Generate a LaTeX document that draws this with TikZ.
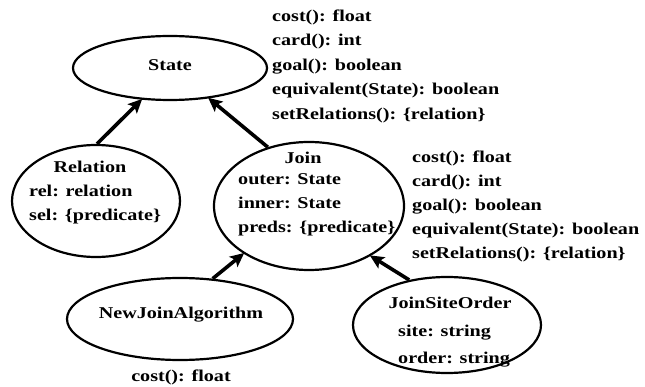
\documentclass[tikz,border=0pt]{standalone}
\usepackage{fontspec}
\setmainfont[FakeStretch=1.22]{Liberation Serif}
\usetikzlibrary{shapes.geometric,arrows.meta}
\tikzset{
  ell/.style={draw, ellipse, line width=2.2pt, inner sep=0pt},
  txt/.style={font=\bfseries\fontsize{16.5}{16.5}\selectfont, inner sep=0pt},
  meth/.style={txt, anchor=west, align=left},
  inh/.style={line width=3.6pt, -{Stealth[length=14pt,width=13pt,inset=3pt]}, shorten >=-1pt}
}
\begin{document}
\begin{tikzpicture}[x=1pt,y=-1pt]
\useasboundingbox (0,0) rectangle (645,387);
% ellipses
\node[ell, minimum width=194pt, minimum height=64pt] (state) at (170,68) {};
\node[ell, minimum width=168pt, minimum height=112pt] (rel) at (96,201) {};
\node[ell, minimum width=190pt, minimum height=128pt] (join) at (309,206) {};
\node[ell, minimum width=226pt, minimum height=82pt] (nja) at (180,319) {};
\node[ell, minimum width=188pt, minimum height=96pt] (jso) at (447,325) {};
% labels in ellipses
\node[txt] (statet) at (170,65) {State};
\node[txt] (relt) at (90,167) {Relation};
\node[meth] (relattr) at (29,205) {rel: relation\\[7.5pt]sel: \{predicate\}};
\node[txt] (joint) at (303,158) {Join};
\node[meth] (joinattr) at (238,205) {outer: State\\[7pt]inner: State\\[8pt]preds: \{predicate\}};
\node[txt] (njat) at (181,315) {NewJoinAlgorithm};
\node[txt] (jsot) at (450,303) {JoinSiteOrder};
\node[meth] (jsoattr) at (398,346) {site: string\\[11pt]order: string};
% method lists
\node[meth] (statem) at (272,66) {cost(): float\\[8pt]card(): int\\[8pt]goal(): boolean\\[8pt]equivalent(State): boolean\\[8pt]setRelations(): \{relation\}};
\node[meth] (joinm) at (412,206) {cost(): float\\[7.5pt]card(): int\\[7.5pt]goal(): boolean\\[7.5pt]equivalent(State): boolean\\[7.5pt]setRelations(): \{relation\}};
\node[txt] (njam) at (181,377) {cost(): float};
% inheritance arrows
\draw[inh] (rel.89) -- (state.228);
\draw[inh] (join.125) -- (state.322);
\draw[inh] (nja.51) -- (join.216);
\draw[inh] (jso.130) -- (join.321);
\end{tikzpicture}
\end{document}
